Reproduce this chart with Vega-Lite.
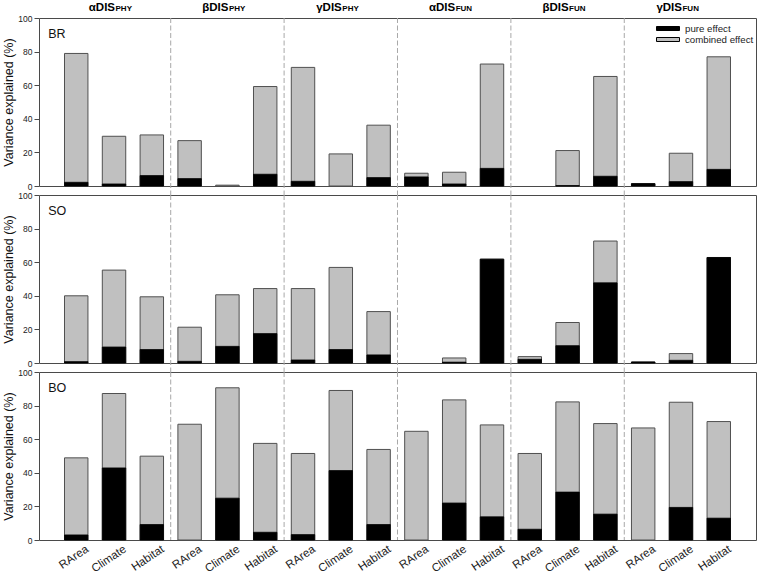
{
  "$schema": "https://vega.github.io/schema/vega-lite/v6.json",
  "bounds": "flush",
  "spacing": 9,
  "padding": {"left": 2, "top": 1, "right": 2, "bottom": 0},
  "config": {
    "font": "Liberation Sans",
    "view": {"stroke": "#4a4a4a", "strokeWidth": 1},
    "axis": {"domainColor": "#4a4a4a", "tickColor": "#4a4a4a", "labelColor": "#222222", "titleColor": "#111111", "grid": false},
    "axisY": {"labelOverlap": false, "labelFlush": false, "tickSize": 5, "labelFontSize": 8.5, "labelPadding": 2, "titleFontSize": 12.5, "titleFontWeight": "normal", "titlePadding": 2, "domain": false}
  },
  "datasets": {
    "bars": [
      {"panel": "BR", "group": "αDIS_PHY", "pred": "RArea", "key": "αDIS_PHY|RArea", "combined": 78.9, "pure": 2.2},
      {"panel": "BR", "group": "αDIS_PHY", "pred": "Climate", "key": "αDIS_PHY|Climate", "combined": 29.6, "pure": 1.2},
      {"panel": "BR", "group": "αDIS_PHY", "pred": "Habitat", "key": "αDIS_PHY|Habitat", "combined": 30.4, "pure": 6.2},
      {"panel": "BR", "group": "βDIS_PHY", "pred": "RArea", "key": "βDIS_PHY|RArea", "combined": 27.0, "pure": 4.4},
      {"panel": "BR", "group": "βDIS_PHY", "pred": "Climate", "key": "βDIS_PHY|Climate", "combined": 0.5, "pure": 0},
      {"panel": "BR", "group": "βDIS_PHY", "pred": "Habitat", "key": "βDIS_PHY|Habitat", "combined": 59.2, "pure": 7.0},
      {"panel": "BR", "group": "γDIS_PHY", "pred": "RArea", "key": "γDIS_PHY|RArea", "combined": 70.6, "pure": 2.8},
      {"panel": "BR", "group": "γDIS_PHY", "pred": "Climate", "key": "γDIS_PHY|Climate", "combined": 19.1, "pure": 0},
      {"panel": "BR", "group": "γDIS_PHY", "pred": "Habitat", "key": "γDIS_PHY|Habitat", "combined": 36.2, "pure": 5.0},
      {"panel": "BR", "group": "αDIS_FUN", "pred": "RArea", "key": "αDIS_FUN|RArea", "combined": 7.6, "pure": 5.4},
      {"panel": "BR", "group": "αDIS_FUN", "pred": "Climate", "key": "αDIS_FUN|Climate", "combined": 8.2, "pure": 1.2},
      {"panel": "BR", "group": "αDIS_FUN", "pred": "Habitat", "key": "αDIS_FUN|Habitat", "combined": 72.6, "pure": 10.5},
      {"panel": "BR", "group": "βDIS_FUN", "pred": "RArea", "key": "βDIS_FUN|RArea", "combined": 0, "pure": 0},
      {"panel": "BR", "group": "βDIS_FUN", "pred": "Climate", "key": "βDIS_FUN|Climate", "combined": 21.1, "pure": 0.2},
      {"panel": "BR", "group": "βDIS_FUN", "pred": "Habitat", "key": "βDIS_FUN|Habitat", "combined": 65.2, "pure": 5.8},
      {"panel": "BR", "group": "γDIS_FUN", "pred": "RArea", "key": "γDIS_FUN|RArea", "combined": 1.4, "pure": 1.4},
      {"panel": "BR", "group": "γDIS_FUN", "pred": "Climate", "key": "γDIS_FUN|Climate", "combined": 19.5, "pure": 2.6},
      {"panel": "BR", "group": "γDIS_FUN", "pred": "Habitat", "key": "γDIS_FUN|Habitat", "combined": 76.9, "pure": 9.9},

      {"panel": "SO", "group": "αDIS_PHY", "pred": "RArea", "key": "αDIS_PHY|RArea", "combined": 40.0, "pure": 0.8},
      {"panel": "SO", "group": "αDIS_PHY", "pred": "Climate", "key": "αDIS_PHY|Climate", "combined": 55.3, "pure": 9.5},
      {"panel": "SO", "group": "αDIS_PHY", "pred": "Habitat", "key": "αDIS_PHY|Habitat", "combined": 39.4, "pure": 8.0},
      {"panel": "SO", "group": "βDIS_PHY", "pred": "RArea", "key": "βDIS_PHY|RArea", "combined": 21.3, "pure": 1.0},
      {"panel": "SO", "group": "βDIS_PHY", "pred": "Climate", "key": "βDIS_PHY|Climate", "combined": 40.6, "pure": 9.9},
      {"panel": "SO", "group": "βDIS_PHY", "pred": "Habitat", "key": "βDIS_PHY|Habitat", "combined": 44.3, "pure": 17.5},
      {"panel": "SO", "group": "γDIS_PHY", "pred": "RArea", "key": "γDIS_PHY|RArea", "combined": 44.3, "pure": 1.8},
      {"panel": "SO", "group": "γDIS_PHY", "pred": "Climate", "key": "γDIS_PHY|Climate", "combined": 56.9, "pure": 8.0},
      {"panel": "SO", "group": "γDIS_PHY", "pred": "Habitat", "key": "γDIS_PHY|Habitat", "combined": 30.6, "pure": 4.8},
      {"panel": "SO", "group": "αDIS_FUN", "pred": "RArea", "key": "αDIS_FUN|RArea", "combined": 0, "pure": 0},
      {"panel": "SO", "group": "αDIS_FUN", "pred": "Climate", "key": "αDIS_FUN|Climate", "combined": 3.0, "pure": 0.5},
      {"panel": "SO", "group": "αDIS_FUN", "pred": "Habitat", "key": "αDIS_FUN|Habitat", "combined": 61.8, "pure": 61.8},
      {"panel": "SO", "group": "βDIS_FUN", "pred": "RArea", "key": "βDIS_FUN|RArea", "combined": 3.8, "pure": 2.2},
      {"panel": "SO", "group": "βDIS_FUN", "pred": "Climate", "key": "βDIS_FUN|Climate", "combined": 24.1, "pure": 10.3},
      {"panel": "SO", "group": "βDIS_FUN", "pred": "Habitat", "key": "βDIS_FUN|Habitat", "combined": 72.6, "pure": 47.7},
      {"panel": "SO", "group": "γDIS_FUN", "pred": "RArea", "key": "γDIS_FUN|RArea", "combined": 0.6, "pure": 0.6},
      {"panel": "SO", "group": "γDIS_FUN", "pred": "Climate", "key": "γDIS_FUN|Climate", "combined": 5.6, "pure": 1.6},
      {"panel": "SO", "group": "γDIS_FUN", "pred": "Habitat", "key": "γDIS_FUN|Habitat", "combined": 62.8, "pure": 62.8},

      {"panel": "BO", "group": "αDIS_PHY", "pred": "RArea", "key": "αDIS_PHY|RArea", "combined": 48.9, "pure": 3.0},
      {"panel": "BO", "group": "αDIS_PHY", "pred": "Climate", "key": "αDIS_PHY|Climate", "combined": 87.2, "pure": 42.9},
      {"panel": "BO", "group": "αDIS_PHY", "pred": "Habitat", "key": "αDIS_PHY|Habitat", "combined": 49.9, "pure": 9.2},
      {"panel": "BO", "group": "βDIS_PHY", "pred": "RArea", "key": "βDIS_PHY|RArea", "combined": 68.9, "pure": 0},
      {"panel": "BO", "group": "βDIS_PHY", "pred": "Climate", "key": "βDIS_PHY|Climate", "combined": 90.6, "pure": 24.9},
      {"panel": "BO", "group": "βDIS_PHY", "pred": "Habitat", "key": "βDIS_PHY|Habitat", "combined": 57.5, "pure": 4.6},
      {"panel": "BO", "group": "γDIS_PHY", "pred": "RArea", "key": "γDIS_PHY|RArea", "combined": 51.5, "pure": 3.2},
      {"panel": "BO", "group": "γDIS_PHY", "pred": "Climate", "key": "γDIS_PHY|Climate", "combined": 89.0, "pure": 41.3},
      {"panel": "BO", "group": "γDIS_PHY", "pred": "Habitat", "key": "γDIS_PHY|Habitat", "combined": 53.9, "pure": 9.2},
      {"panel": "BO", "group": "αDIS_FUN", "pred": "RArea", "key": "αDIS_FUN|RArea", "combined": 64.7, "pure": 0},
      {"panel": "BO", "group": "αDIS_FUN", "pred": "Climate", "key": "αDIS_FUN|Climate", "combined": 83.4, "pure": 22.0},
      {"panel": "BO", "group": "αDIS_FUN", "pred": "Habitat", "key": "αDIS_FUN|Habitat", "combined": 68.5, "pure": 13.8},
      {"panel": "BO", "group": "βDIS_FUN", "pred": "RArea", "key": "βDIS_FUN|RArea", "combined": 51.5, "pure": 6.4},
      {"panel": "BO", "group": "βDIS_FUN", "pred": "Climate", "key": "βDIS_FUN|Climate", "combined": 82.2, "pure": 28.5},
      {"panel": "BO", "group": "βDIS_FUN", "pred": "Habitat", "key": "βDIS_FUN|Habitat", "combined": 69.3, "pure": 15.4},
      {"panel": "BO", "group": "γDIS_FUN", "pred": "RArea", "key": "γDIS_FUN|RArea", "combined": 66.7, "pure": 0},
      {"panel": "BO", "group": "γDIS_FUN", "pred": "Climate", "key": "γDIS_FUN|Climate", "combined": 82.0, "pure": 19.4},
      {"panel": "BO", "group": "γDIS_FUN", "pred": "Habitat", "key": "γDIS_FUN|Habitat", "combined": 70.5, "pure": 13.0}
    ],
    "headers": [
      {"key": "αDIS_PHY|Climate", "main": "αDIS", "sub": "PHY"},
      {"key": "βDIS_PHY|Climate", "main": "βDIS", "sub": "PHY"},
      {"key": "γDIS_PHY|Climate", "main": "γDIS", "sub": "PHY"},
      {"key": "αDIS_FUN|Climate", "main": "αDIS", "sub": "FUN"},
      {"key": "βDIS_FUN|Climate", "main": "βDIS", "sub": "FUN"},
      {"key": "γDIS_FUN|Climate", "main": "γDIS", "sub": "FUN"}
    ],
    "dividers": [
      {"key": "αDIS_PHY|Habitat"},
      {"key": "βDIS_PHY|Habitat"},
      {"key": "γDIS_PHY|Habitat"},
      {"key": "αDIS_FUN|Habitat"},
      {"key": "βDIS_FUN|Habitat"}
    ],
    "panels": [
      {"panel": "BR", "key": "αDIS_PHY|RArea"},
      {"panel": "SO", "key": "αDIS_PHY|RArea"},
      {"panel": "BO", "key": "αDIS_PHY|RArea"}
    ]
  },
  "resolve": {"scale": {"color": "independent"}, "legend": {"color": "independent"}},
  "vconcat": [
    {
      "width": 717, "height": 168,
      "layer": [
        {
          "data": {"name": "dividers"},
          "mark": {"type": "rule", "strokeDash": [5, 2.5], "color": "#a8a8a8", "strokeWidth": 1},
          "encoding": {
            "x": {"field": "key", "type": "nominal", "bandPosition": 1.306, "axis": null, "sort": null,
                  "scale": {"domain": ["αDIS_PHY|RArea","αDIS_PHY|Climate","αDIS_PHY|Habitat","βDIS_PHY|RArea","βDIS_PHY|Climate","βDIS_PHY|Habitat","γDIS_PHY|RArea","γDIS_PHY|Climate","γDIS_PHY|Habitat","αDIS_FUN|RArea","αDIS_FUN|Climate","αDIS_FUN|Habitat","βDIS_FUN|RArea","βDIS_FUN|Climate","βDIS_FUN|Habitat","γDIS_FUN|RArea","γDIS_FUN|Climate","γDIS_FUN|Habitat"], "paddingInner": 0.38, "paddingOuter": 0.675}},
            "y": {"datum": 100, "type": "quantitative", "scale": {"domain": [0, 100], "nice": false},
                  "axis": {"values": [0, 20, 40, 60, 80, 100], "labelOverlap": false, "title": "Variance explained (%)"}},
            "y2": {"datum": -5.36}
          }
        },
        {
          "data": {"name": "bars"},
          "transform": [{"filter": "datum.panel === 'BR' && datum.combined > 0"}],
          "mark": {"type": "bar", "stroke": "#505050", "strokeWidth": 1},
          "encoding": {
            "x": {"field": "key", "type": "nominal", "axis": null, "sort": null},
            "y": {"field": "combined", "type": "quantitative", "axis": {"values": [0, 20, 40, 60, 80, 100], "labelOverlap": false, "title": "Variance explained (%)"}},
            "color": {"datum": "combined effect", "type": "nominal",
                      "scale": {"domain": ["pure effect", "combined effect"], "range": ["#000000", "#c0c0c0"]},
                      "legend": {"title": null, "orient": "none", "legendX": 631, "legendY": 5, "padding": 0, "symbolType": "M-3.8,-0.4H0.8V0.4H-3.8Z", "symbolSize": 100, "symbolStrokeColor": "#606060", "symbolStrokeWidth": 1, "labelFontSize": 9.7, "labelOffset": 4, "rowPadding": 0, "labelColor": "#222222"}}
          }
        },
        {
          "data": {"name": "bars"},
          "transform": [{"filter": "datum.panel === 'BR' && datum.pure > 0"}],
          "mark": {"type": "bar", "stroke": "#000000", "strokeWidth": 0.8},
          "encoding": {
            "x": {"field": "key", "type": "nominal", "axis": null, "sort": null},
            "y": {"field": "pure", "type": "quantitative", "axis": {"values": [0, 20, 40, 60, 80, 100], "labelOverlap": false, "title": "Variance explained (%)"}},
            "color": {"datum": "pure effect", "type": "nominal"}
          }
        },
        {
          "data": {"name": "headers"},
          "mark": {"type": "text", "align": "right", "baseline": "alphabetic", "dx": 1, "dy": -7, "fontSize": 11.5, "fontWeight": "bold", "color": "#000000"},
          "encoding": {
            "x": {"field": "key", "type": "nominal", "axis": null, "sort": null},
            "y": {"datum": 100, "type": "quantitative", "axis": {"values": [0, 20, 40, 60, 80, 100], "labelOverlap": false, "title": "Variance explained (%)"}},
            "text": {"field": "main"}
          }
        },
        {
          "data": {"name": "headers"},
          "mark": {"type": "text", "align": "left", "baseline": "alphabetic", "dx": 1.5, "dy": -7, "fontSize": 8, "fontWeight": "bold", "color": "#000000"},
          "encoding": {
            "x": {"field": "key", "type": "nominal", "axis": null, "sort": null},
            "y": {"datum": 100, "type": "quantitative", "axis": {"values": [0, 20, 40, 60, 80, 100], "labelOverlap": false, "title": "Variance explained (%)"}},
            "text": {"field": "sub"}
          }
        },
        {
          "data": {"name": "panels"},
          "transform": [{"filter": "datum.panel === 'BR'"}],
          "mark": {"type": "text", "align": "left", "baseline": "alphabetic", "dx": -28, "fontSize": 12.5, "color": "#111111"},
          "encoding": {
            "x": {"field": "key", "type": "nominal", "axis": null, "sort": null},
            "y": {"datum": 88, "type": "quantitative", "axis": {"values": [0, 20, 40, 60, 80, 100], "labelOverlap": false, "title": "Variance explained (%)"}},
            "text": {"field": "panel"}
          }
        }
      ]
    },
    {
      "width": 717, "height": 168,
      "layer": [
        {
          "data": {"name": "dividers"},
          "mark": {"type": "rule", "strokeDash": [5, 2.5], "color": "#a8a8a8", "strokeWidth": 1},
          "encoding": {
            "x": {"field": "key", "type": "nominal", "bandPosition": 1.306, "axis": null, "sort": null,
                  "scale": {"domain": ["αDIS_PHY|RArea","αDIS_PHY|Climate","αDIS_PHY|Habitat","βDIS_PHY|RArea","βDIS_PHY|Climate","βDIS_PHY|Habitat","γDIS_PHY|RArea","γDIS_PHY|Climate","γDIS_PHY|Habitat","αDIS_FUN|RArea","αDIS_FUN|Climate","αDIS_FUN|Habitat","βDIS_FUN|RArea","βDIS_FUN|Climate","βDIS_FUN|Habitat","γDIS_FUN|RArea","γDIS_FUN|Climate","γDIS_FUN|Habitat"], "paddingInner": 0.38, "paddingOuter": 0.675}},
            "y": {"datum": 100, "type": "quantitative", "scale": {"domain": [0, 100], "nice": false},
                  "axis": {"values": [0, 20, 40, 60, 80, 100], "labelOverlap": false, "title": "Variance explained (%)"}},
            "y2": {"datum": -5.36}
          }
        },
        {
          "data": {"name": "bars"},
          "transform": [{"filter": "datum.panel === 'SO' && datum.combined > 0"}],
          "mark": {"type": "bar", "stroke": "#505050", "strokeWidth": 1, "color": "#c0c0c0"},
          "encoding": {
            "x": {"field": "key", "type": "nominal", "axis": null, "sort": null},
            "y": {"field": "combined", "type": "quantitative", "axis": {"values": [0, 20, 40, 60, 80, 100], "labelOverlap": false, "title": "Variance explained (%)"}}
          }
        },
        {
          "data": {"name": "bars"},
          "transform": [{"filter": "datum.panel === 'SO' && datum.pure > 0"}],
          "mark": {"type": "bar", "stroke": "#000000", "strokeWidth": 0.8, "color": "#000000"},
          "encoding": {
            "x": {"field": "key", "type": "nominal", "axis": null, "sort": null},
            "y": {"field": "pure", "type": "quantitative", "axis": {"values": [0, 20, 40, 60, 80, 100], "labelOverlap": false, "title": "Variance explained (%)"}}
          }
        },
        {
          "data": {"name": "panels"},
          "transform": [{"filter": "datum.panel === 'SO'"}],
          "mark": {"type": "text", "align": "left", "baseline": "alphabetic", "dx": -28, "fontSize": 12.5, "color": "#111111"},
          "encoding": {
            "x": {"field": "key", "type": "nominal", "axis": null, "sort": null},
            "y": {"datum": 88, "type": "quantitative", "axis": {"values": [0, 20, 40, 60, 80, 100], "labelOverlap": false, "title": "Variance explained (%)"}},
            "text": {"field": "panel"}
          }
        }
      ]
    },
    {
      "width": 717, "height": 168,
      "layer": [
        {
          "data": {"name": "dividers"},
          "mark": {"type": "rule", "strokeDash": [5, 2.5], "color": "#a8a8a8", "strokeWidth": 1},
          "encoding": {
            "x": {"field": "key", "type": "nominal", "bandPosition": 1.306, "sort": null,
                  "axis": {"title": null, "ticks": false, "domain": false, "labelAngle": -34, "labelFontSize": 11.5, "labelPadding": 3, "labelOffset": 8, "labelExpr": "split(datum.value, '|')[1]", "labelColor": "#222222"},
                  "scale": {"domain": ["αDIS_PHY|RArea","αDIS_PHY|Climate","αDIS_PHY|Habitat","βDIS_PHY|RArea","βDIS_PHY|Climate","βDIS_PHY|Habitat","γDIS_PHY|RArea","γDIS_PHY|Climate","γDIS_PHY|Habitat","αDIS_FUN|RArea","αDIS_FUN|Climate","αDIS_FUN|Habitat","βDIS_FUN|RArea","βDIS_FUN|Climate","βDIS_FUN|Habitat","γDIS_FUN|RArea","γDIS_FUN|Climate","γDIS_FUN|Habitat"], "paddingInner": 0.38, "paddingOuter": 0.675}},
            "y": {"datum": 100, "type": "quantitative", "scale": {"domain": [0, 100], "nice": false},
                  "axis": {"values": [0, 20, 40, 60, 80, 100], "labelOverlap": false, "title": "Variance explained (%)"}},
            "y2": {"datum": 0}
          }
        },
        {
          "data": {"name": "bars"},
          "transform": [{"filter": "datum.panel === 'BO' && datum.combined > 0"}],
          "mark": {"type": "bar", "stroke": "#505050", "strokeWidth": 1, "color": "#c0c0c0"},
          "encoding": {
            "x": {"field": "key", "type": "nominal", "sort": null},
            "y": {"field": "combined", "type": "quantitative", "axis": {"values": [0, 20, 40, 60, 80, 100], "labelOverlap": false, "title": "Variance explained (%)"}}
          }
        },
        {
          "data": {"name": "bars"},
          "transform": [{"filter": "datum.panel === 'BO' && datum.pure > 0"}],
          "mark": {"type": "bar", "stroke": "#000000", "strokeWidth": 0.8, "color": "#000000"},
          "encoding": {
            "x": {"field": "key", "type": "nominal", "sort": null},
            "y": {"field": "pure", "type": "quantitative", "axis": {"values": [0, 20, 40, 60, 80, 100], "labelOverlap": false, "title": "Variance explained (%)"}}
          }
        },
        {
          "data": {"name": "panels"},
          "transform": [{"filter": "datum.panel === 'BO'"}],
          "mark": {"type": "text", "align": "left", "baseline": "alphabetic", "dx": -28, "fontSize": 12.5, "color": "#111111"},
          "encoding": {
            "x": {"field": "key", "type": "nominal", "sort": null},
            "y": {"datum": 88, "type": "quantitative", "axis": {"values": [0, 20, 40, 60, 80, 100], "labelOverlap": false, "title": "Variance explained (%)"}},
            "text": {"field": "panel"}
          }
        }
      ]
    }
  ]
}
